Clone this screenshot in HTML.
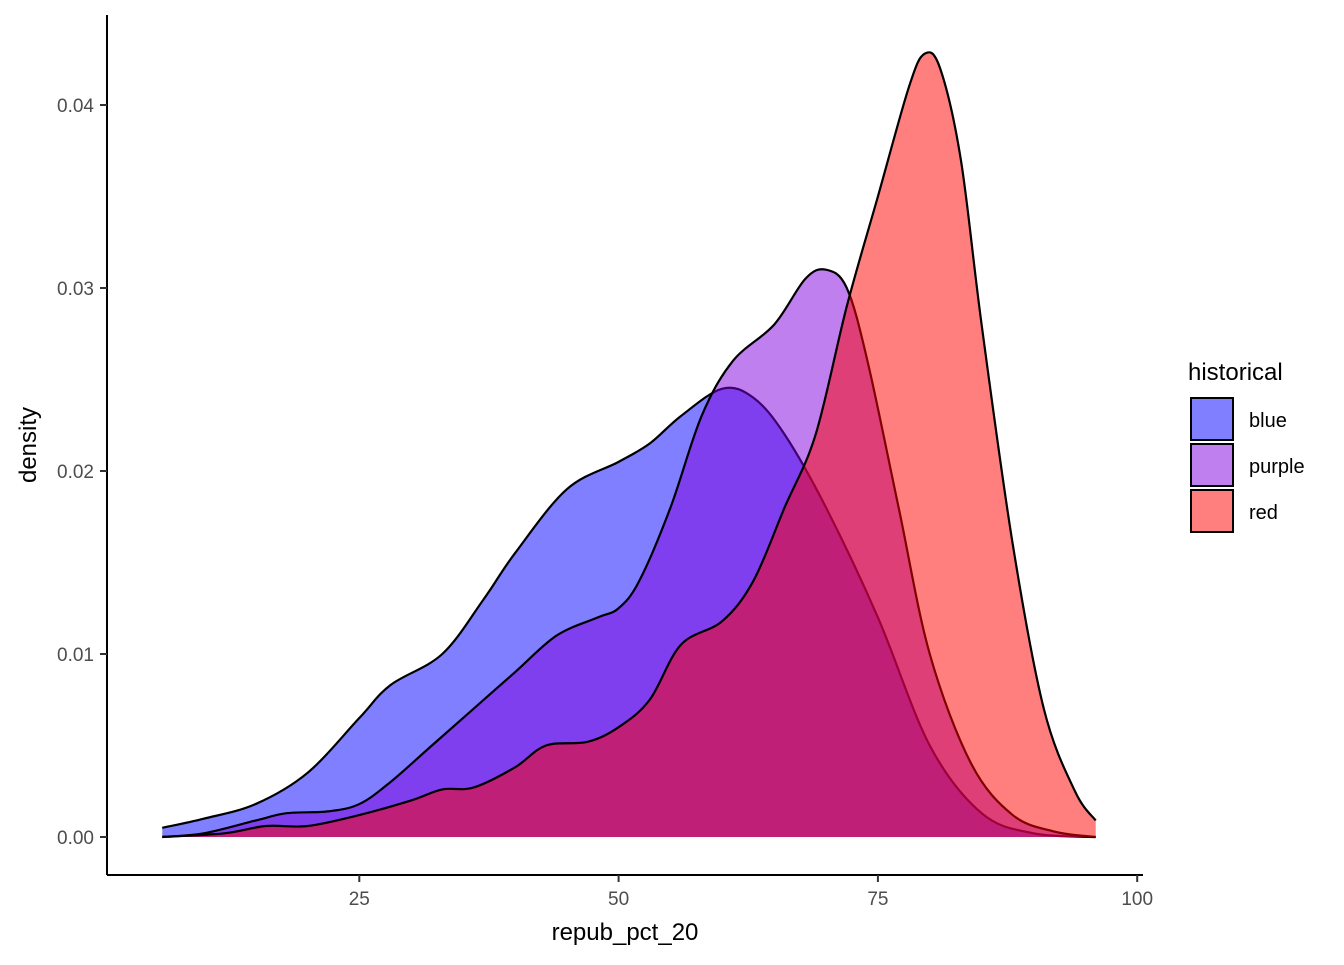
<!DOCTYPE html>
<html><head><meta charset="utf-8"><style>
body{margin:0;background:#fff}
text{font-family:"Liberation Sans",Arial,sans-serif}
</style></head><body>
<svg id="chart" width="1344" height="960" viewBox="0 0 1344 960" xmlns="http://www.w3.org/2000/svg">
<g id="marks"></g>
<g id="axes"></g>
<text x="625" y="940" text-anchor="middle" font-size="24" fill="#000">repub_pct_20</text>
<text transform="translate(36,445) rotate(-90)" text-anchor="middle" font-size="24" fill="#000">density</text>
<g id="legend">
<text x="1188" y="380" font-size="24" fill="#000">historical</text>
</g>
</svg>
<script>
const xTicks=[25,50,75,100];
const yTicks=[0,0.01,0.02,0.03,0.04];
const yTickLabels=["0.00","0.01","0.02","0.03","0.04"];
const seriesNames=["blue","purple","red"];
const blueX=[6,10,15,20,25,28,33,37,40,45,50,53,56,60,63,66,70,75,80,85,90,96];
const blueY=[0.0005,0.001,0.0018,0.0035,0.0065,0.0083,0.0100,0.013,0.0155,0.019,0.0205,0.0215,0.023,0.0245,0.024,0.022,0.018,0.012,0.005,0.0013,0.0002,0];
const purpleX=[6,10,15,18,22,25,28,32,36,40,44,48,50,52,55,58,61,65,68,70,72,74,77,80,84,88,92,96];
const purpleY=[0,0.0002,0.0009,0.0013,0.0014,0.0018,0.003,0.005,0.007,0.009,0.011,0.012,0.0125,0.014,0.018,0.023,0.026,0.028,0.0305,0.031,0.030,0.026,0.018,0.010,0.004,0.0012,0.0003,0];
const redX=[6,12,16,20,25,30,33,36,40,43,47,50,53,56,60,63,66,69,72,75,78,79.5,81,83,85,88,91,94,96];
const redY=[0,0.0002,0.0006,0.0006,0.0012,0.002,0.0026,0.0027,0.0038,0.005,0.0052,0.006,0.0075,0.0105,0.0118,0.014,0.018,0.022,0.029,0.035,0.041,0.0428,0.042,0.037,0.028,0.016,0.007,0.0025,0.0009];
const fills=["rgba(0,0,255,0.5)","rgba(128,0,224,0.5)","rgba(255,0,0,0.5)"];
const NS="http://www.w3.org/2000/svg";
const sx=v=>100+v*10.372;
const sy=v=>837-v*18300;
function mk(t,a,p){const e=document.createElementNS(NS,t);for(const k in a)e.setAttribute(k,a[k]);p.appendChild(e);return e;}
function curve(xs,ys){
  const P=xs.map((x,i)=>[sx(x),sy(ys[i])]);
  let d=`M${P[0][0]},${P[0][1]}`;
  for(let i=0;i<P.length-1;i++){
    const p0=P[Math.max(0,i-1)],p1=P[i],p2=P[i+1],p3=P[Math.min(P.length-1,i+2)];
    const c1=[p1[0]+(p2[0]-p0[0])/6,p1[1]+(p2[1]-p0[1])/6];
    const c2=[p2[0]-(p3[0]-p1[0])/6,p2[1]-(p3[1]-p1[1])/6];
    d+=` C${c1[0]},${c1[1]} ${c2[0]},${c2[1]} ${p2[0]},${p2[1]}`;
  }
  return d;
}
const marks=document.getElementById('marks');
const all=[[blueX,blueY],[purpleX,purpleY],[redX,redY]];
all.forEach(([xs,ys],i)=>{
  const c=curve(xs,ys);
  const f=mk('path',{d:c+` L${sx(xs[xs.length-1])},${sy(0)} L${sx(xs[0])},${sy(0)} Z`,fill:fills[i],stroke:'none'},marks);
  
  
  const l=mk('path',{d:c,fill:'none',stroke:'#000','stroke-width':2.2},marks);
  
  
});
const axes=document.getElementById('axes');
mk('line',{x1:107,y1:15,x2:107,y2:875,stroke:'#000','stroke-width':2},axes);
mk('line',{x1:107,y1:875,x2:1143,y2:875,stroke:'#000','stroke-width':2},axes);
xTicks.forEach(v=>{
  const t=mk('line',{x1:sx(v),y1:875,x2:sx(v),y2:882,stroke:'#333','stroke-width':2},axes);
  
  const tx=mk('text',{x:sx(v),y:905,'text-anchor':'middle','font-size':19,fill:'#4d4d4d'},axes);
  
  
  tx.textContent=v;
});
yTicks.forEach((v,i)=>{
  const t=mk('line',{x1:100,y1:sy(v),x2:107,y2:sy(v),stroke:'#333','stroke-width':2},axes);
  
  const tx=mk('text',{x:94,y:sy(v)+7,'text-anchor':'end','font-size':19,fill:'#4d4d4d'},axes);
  
  
  tx.textContent=yTickLabels[i];
});
const lg=document.getElementById('legend');
seriesNames.forEach((n,i)=>{
  const y=398+i*46;
  const r=mk('rect',{x:1191,y:y,width:42,height:42,fill:fills[i],stroke:'#000','stroke-width':2},lg);
  
  
  const t=mk('text',{x:1249,y:y+29,'font-size':20,fill:'#000'},lg);
  
  
  t.textContent=n;
});
</script>
</body></html>
